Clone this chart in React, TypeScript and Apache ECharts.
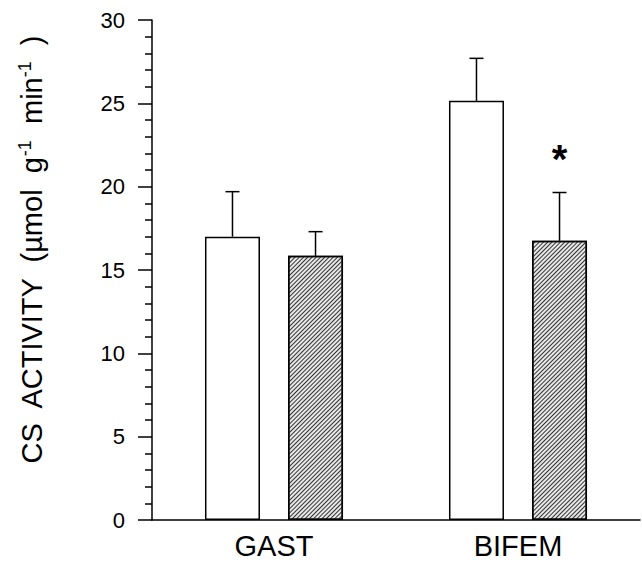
import React, { useEffect, useRef } from "react";
import * as echarts from "echarts";

const categories = ["GAST", "BIFEM"];
const controlMeans = [17.0, 25.15];
const controlErrTop = [19.7, 27.7];
const treatedMeans = [15.85, 16.75];
const treatedErrTop = [17.3, 19.65];
const treatedMarks = ["", "*"];
const yTicks = { min: 0, max: 30, interval: 5 };

const BAR_W = 55;
const BAR_GAP = 0.51;
const FONT = "'Liberation Sans', Arial, Helvetica, sans-serif";

export default function App() {
  const ref = useRef<HTMLDivElement>(null);
  useEffect(() => {
    if (!ref.current) return;
    const chart = echarts.init(ref.current, null, { renderer: "svg" });
    const offset = (BAR_W * (1 + BAR_GAP)) / 2;
    const errSeries = (means: number[], tops: number[], marks: string[], sign: number) => ({
      type: "custom",
      z: 5,
      encode: { x: 0, y: [1, 2] },
      data: means.map((m, i) => [i, m, tops[i]]),
      renderItem: (params: any, api: any) => {
        const idx = api.value(0);
        const base = api.coord([idx, api.value(1)]);
        const top = api.coord([idx, api.value(2)]);
        const x = base[0] + sign * offset;
        const mark = marks[params.dataIndex];
        const children: any[] = [
          { type: "line", shape: { x1: x, y1: base[1], x2: x, y2: top[1] }, style: { stroke: "#000", lineWidth: 1.5 } },
          { type: "line", shape: { x1: x - 7, y1: top[1], x2: x + 7, y2: top[1] }, style: { stroke: "#000", lineWidth: 1.5 } },
        ];
        if (mark) {
          children.push({
            type: "text",
            style: { text: mark, x, y: top[1] - 34, fontSize: 40, fontWeight: "bold", fontFamily: FONT, align: "center", verticalAlign: "middle", fill: "#000" },
          });
        }
        return { type: "group", children };
      },
    });
    chart.setOption({
      animation: false,
      backgroundColor: "#fff",
      grid: { left: 152, right: 2, top: 20, bottom: 45, containLabel: false, outerBoundsMode: "none" },
      xAxis: {
        type: "category",
        data: categories,
        axisLine: { lineStyle: { color: "#000", width: 1.5 } },
        axisTick: { show: false },
        axisLabel: { color: "#000", fontSize: 29, fontFamily: FONT, margin: 11 },
      },
      yAxis: {
        type: "value",
        min: yTicks.min,
        max: yTicks.max,
        interval: yTicks.interval,
        name: "{a|CS  ACTIVITY  (µmol  g}{s|-1}{a|  min}{s|-1}{a|  )}",
        nameLocation: "middle",
        nameGap: 106,
        nameTextStyle: {
          padding: [0, 0, 0, 40],
          rich: {
            a: { fontSize: 29, fontFamily: FONT, color: "#000", lineHeight: 34, verticalAlign: "bottom" },
            s: { fontSize: 18, fontFamily: FONT, color: "#000", lineHeight: 34, verticalAlign: "bottom", padding: [0, 0, 12, 0] },
          },
        },
        axisLine: { show: true, lineStyle: { color: "#000", width: 1.5 } },
        axisTick: { show: true, length: 14, lineStyle: { color: "#000", width: 1.5 } },
        minorTick: { show: true, splitNumber: 5, length: 7, lineStyle: { color: "#000", width: 1.5 } },
        splitLine: { show: false },
        axisLabel: { color: "#000", fontSize: 22, fontFamily: FONT, margin: 27 },
      },
      series: [
        {
          type: "bar",
          data: controlMeans,
          barWidth: BAR_W,
          barGap: `${BAR_GAP * 100}%`,
          itemStyle: { color: "#fff", borderColor: "#000", borderWidth: 1.5 },
        },
        {
          type: "bar",
          data: treatedMeans,
          barWidth: BAR_W,
          itemStyle: {
            color: "#e8e8e8",
            borderColor: "#000",
            borderWidth: 1.5,
            decal: {
              symbol: "rect",
              symbolSize: 1,
              dashArrayX: [1, 0],
              dashArrayY: [1, 2],
              rotation: -Math.PI / 4,
              color: "#333",
            },
          },
        },
        errSeries(controlMeans, controlErrTop, ["", ""], -1),
        errSeries(treatedMeans, treatedErrTop, treatedMarks, 1),
      ],
    });
    return () => chart.dispose();
  }, []);
  return <div ref={ref} style={{ width: 642, height: 565, position: "absolute", left: 0, top: 0 }} />;
}
